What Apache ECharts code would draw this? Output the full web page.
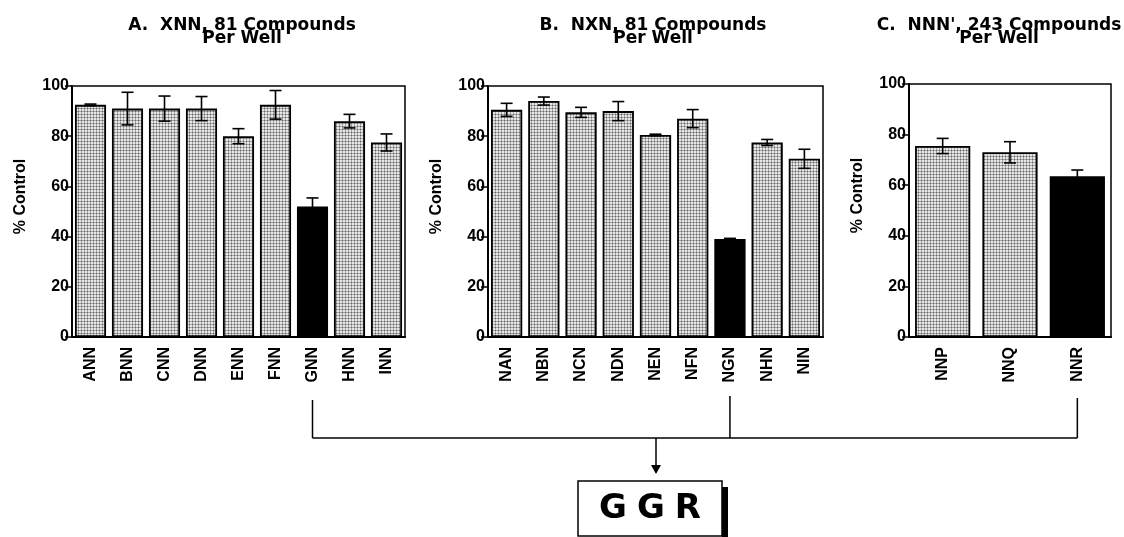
<!DOCTYPE html>
<html>
<head>
<meta charset="utf-8">
<script src="https://cdn.jsdelivr.net/npm/echarts@6/dist/echarts.min.js"></script>
<style>
  html, body { margin: 0; padding: 0; background: #fff; }
  #main { width: 1124px; height: 537px; }
</style>
</head>
<body>
<div id="main"></div>
<script>
// panel A - XNN
var catsA = ['ANN', 'BNN', 'CNN', 'DNN', 'ENN', 'FNN', 'GNN', 'HNN', 'INN'];
var valsA = [92.5, 91, 91, 91, 80, 92.5, 52, 86, 77.5];
var errA = [0.3, 6.5, 5, 4.8, 3, 5.7, 3.4, 2.7, 3.4];

// panel B - NXN
var catsB = ['NAN', 'NBN', 'NCN', 'NDN', 'NEN', 'NFN', 'NGN', 'NHN', 'NIN'];
var valsB = [90.5, 94, 89.5, 90, 80.5, 87, 39, 77.5, 71];
var errB = [2.6, 1.6, 2, 3.8, 0.3, 3.6, 0.3, 1.2, 3.8];

// panel C - NNN'
var catsC = ['NNP', 'NNQ', 'NNR'];
var valsC = [75.5, 73, 63.5];
var errC = [3, 4.2, 2.5];

// the winners (black bars)
var picked = ['GNN', 'NGN', 'NNR'];

var titles = ['A.  XNN, 81 Compounds', 'B.  NXN, 81 Compounds', "C.  NNN', 243 Compounds"];
var subTitle = 'Per Well';
var yName = '% Control';
var yMin = 0, yMax = 100, yStep = 20;
var result = 'GGR';

// stippled grey fill like the print
function stipple() {
    var c = document.createElement('canvas');
    c.width = 3; c.height = 3;
    var g = c.getContext('2d');
    g.fillStyle = '#e6e6e6';
    g.fillRect(0, 0, 3, 3);
    g.fillStyle = '#a6a6a6';
    g.fillRect(0, 0, 3, 1);
    g.fillRect(0, 0, 1, 3);
    g.fillStyle = '#666';
    g.fillRect(0, 0, 1, 1);
    return c;
}
var greyFill = { image: stipple(), repeat: 'repeat' };

var chartDom = document.getElementById('main');
var myChart = echarts.init(chartDom);

var grids = [
    { left: 72, top: 86, width: 333, height: 251, tx: 237 },
    { left: 488, top: 86, width: 335, height: 251, tx: 648 },
    { left: 909, top: 84, width: 202, height: 253, tx: 994 }
];
var panels = [
    { cats: catsA, vals: valsA, err: errA, bw: '84%' },
    { cats: catsB, vals: valsB, err: errB, bw: '84%' },
    { cats: catsC, vals: valsC, err: errC, bw: '82%' }
];

function renderErr(params, api) {
    var x = api.value(0), y = api.value(1), e = api.value(2);
    var hi = api.coord([x, y + e]);
    var lo = api.coord([x, y - e]);
    var w = 6;
    var st = { stroke: '#000', lineWidth: 1.6 };
    return {
        type: 'group',
        children: [
            { type: 'line', shape: { x1: hi[0], y1: hi[1], x2: lo[0], y2: lo[1] }, style: st },
            { type: 'line', shape: { x1: hi[0] - w, y1: hi[1], x2: hi[0] + w, y2: hi[1] }, style: st },
            { type: 'line', shape: { x1: lo[0] - w, y1: lo[1], x2: lo[0] + w, y2: lo[1] }, style: st }
        ]
    };
}

var option = {
    backgroundColor: '#fff',
    animation: false,
    title: [],
    grid: [],
    xAxis: [],
    yAxis: [],
    series: []
};

panels.forEach(function (p, i) {
    var gr = grids[i];
    option.grid.push({
        left: gr.left, top: gr.top, width: gr.width, height: gr.height,
        show: true, borderColor: '#000', borderWidth: 1.5, backgroundColor: 'transparent'
    });
    option.title.push({
        text: titles[i] + '\n' + subTitle,
        left: gr.tx,
        top: 14,
        textAlign: 'center',
        textStyle: {
            fontFamily: 'DejaVu Sans', fontWeight: 'bold', fontSize: 17,
            lineHeight: 13, color: '#000'
        }
    });
    option.xAxis.push({
        type: 'category', gridIndex: i, data: p.cats,
        axisTick: { show: false },
        axisLine: { lineStyle: { color: '#000', width: 2 } },
        axisLabel: {
            rotate: 90, margin: 10, color: '#000',
            fontFamily: 'Liberation Sans', fontWeight: 'bold', fontSize: 16
        }
    });
    option.yAxis.push({
        type: 'value', gridIndex: i, min: yMin, max: yMax, interval: yStep,
        name: yName, nameLocation: 'middle', nameRotate: 90, nameGap: 43,
        nameTextStyle: {
            fontFamily: 'Liberation Sans', fontWeight: 'bold', fontSize: 16, color: '#000',
            padding: [0, 0, 0, 30]
        },
        splitLine: { show: false },
        axisLine: { show: true, lineStyle: { color: '#000', width: 2 } },
        axisTick: { show: true, length: 7, lineStyle: { color: '#000', width: 1.5 } },
        axisLabel: {
            margin: 3, color: '#000',
            fontFamily: 'Liberation Sans', fontWeight: 'bold', fontSize: 16
        }
    });
    option.series.push({
        type: 'bar', xAxisIndex: i, yAxisIndex: i, barWidth: p.bw,
        itemStyle: { color: greyFill, borderColor: '#000', borderWidth: 1.8 },
        data: p.vals.map(function (v, k) {
            if (picked.indexOf(p.cats[k]) >= 0) {
                return { value: v, itemStyle: { color: '#000' } };
            }
            return v;
        })
    });
    option.series.push({
        type: 'custom', xAxisIndex: i, yAxisIndex: i, z: 5,
        renderItem: renderErr,
        data: p.cats.map(function (c, k) { return [k, p.vals[k], p.err[k]]; })
    });
});

myChart.setOption(option);

// connector lines from the picked wells down to the result box
var xs = picked.map(function (c, i) {
    return myChart.convertToPixel({ xAxisIndex: i }, c);
});
var lineY = 438;
var tops = [400, 396, 398];
var ln = { stroke: '#000', lineWidth: 1.5 };
var graphics = [];
xs.forEach(function (x, i) {
    graphics.push({ type: 'line', shape: { x1: x, y1: tops[i], x2: x, y2: lineY }, style: ln });
});
graphics.push({ type: 'line', shape: { x1: xs[0], y1: lineY, x2: xs[2], y2: lineY }, style: ln });
graphics.push({ type: 'line', shape: { x1: 656, y1: lineY, x2: 656, y2: 468 }, style: ln });
graphics.push({ type: 'polygon', shape: { points: [[651, 465], [661, 465], [656, 474]] }, style: { fill: '#000' } });
graphics.push({ type: 'rect', shape: { x: 722, y: 487, width: 6, height: 50 }, style: { fill: '#000' } });
graphics.push({ type: 'rect', shape: { x: 578, y: 481, width: 144, height: 55 }, style: { fill: '#fff', stroke: '#000', lineWidth: 1.5 } });
graphics.push({
    type: 'text', x: 650, y: 509,
    style: {
        text: result.split('').map(function (ch) { return '{g|' + ch + '}'; }).join(''),
        align: 'center', verticalAlign: 'middle',
        font: 'bold 34px "DejaVu Sans"', fill: '#000',
        rich: { g: { font: 'bold 34px "DejaVu Sans"', padding: [0, 5, 0, 5] } }
    }
});
myChart.setOption({ graphic: graphics });
</script>
</body>
</html>
